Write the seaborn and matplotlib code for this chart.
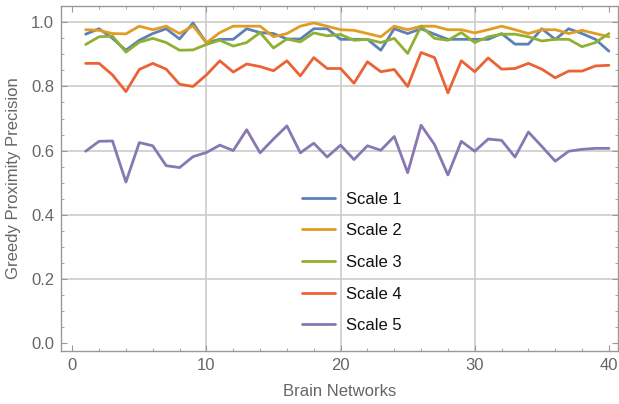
import matplotlib
matplotlib.use("Agg")
import matplotlib.pyplot as plt
from matplotlib.ticker import MultipleLocator
import numpy as np
import pandas as pd
import seaborn as sns

# Values
networks = list(range(1, 41))
scale1 = [0.963, 0.980, 0.950, 0.913, 0.944, 0.965, 0.980, 0.948, 0.998, 0.936,
          0.947, 0.947, 0.980, 0.968, 0.965, 0.948, 0.948, 0.980, 0.980, 0.947,
          0.947, 0.947, 0.913, 0.980, 0.965, 0.980, 0.963, 0.947, 0.947, 0.947,
          0.947, 0.965, 0.932, 0.932, 0.980, 0.947, 0.980, 0.965, 0.947, 0.910]
scale2 = [0.977, 0.975, 0.965, 0.964, 0.988, 0.977, 0.988, 0.965, 0.989, 0.936,
          0.968, 0.988, 0.988, 0.988, 0.955, 0.965, 0.988, 0.998, 0.988, 0.977,
          0.975, 0.965, 0.955, 0.988, 0.977, 0.988, 0.988, 0.977, 0.977, 0.967,
          0.977, 0.988, 0.977, 0.965, 0.977, 0.977, 0.965, 0.975, 0.965, 0.955]
scale3 = [0.931, 0.955, 0.957, 0.907, 0.938, 0.950, 0.937, 0.913, 0.914, 0.931,
          0.944, 0.926, 0.937, 0.968, 0.920, 0.948, 0.939, 0.967, 0.958, 0.962,
          0.944, 0.947, 0.937, 0.950, 0.903, 0.988, 0.950, 0.944, 0.968, 0.937,
          0.955, 0.963, 0.963, 0.955, 0.942, 0.947, 0.947, 0.924, 0.937, 0.965]
scale4 = [0.872, 0.872, 0.836, 0.784, 0.853, 0.872, 0.854, 0.807, 0.800, 0.836,
          0.880, 0.845, 0.870, 0.862, 0.849, 0.880, 0.833, 0.890, 0.856, 0.856,
          0.810, 0.877, 0.846, 0.853, 0.800, 0.906, 0.890, 0.780, 0.880, 0.846,
          0.889, 0.854, 0.856, 0.872, 0.854, 0.827, 0.848, 0.848, 0.864, 0.866]
scale5 = [0.598, 0.629, 0.630, 0.502, 0.625, 0.615, 0.553, 0.547, 0.581, 0.594,
          0.617, 0.600, 0.665, 0.593, 0.636, 0.677, 0.593, 0.623, 0.580, 0.617,
          0.572, 0.615, 0.601, 0.644, 0.531, 0.679, 0.619, 0.524, 0.629, 0.598,
          0.636, 0.632, 0.580, 0.658, 0.613, 0.567, 0.598, 0.604, 0.607, 0.607]

labels = ["Scale 1", "Scale 2", "Scale 3", "Scale 4", "Scale 5"]
colors = ["#5E81B5", "#E19C24", "#8FB032", "#EB6235", "#8778B3"]

frames = []
for lab, vals in zip(labels, [scale1, scale2, scale3, scale4, scale5]):
    frames.append(pd.DataFrame({"network": networks, "precision": vals, "scale": lab}))
df = pd.concat(frames, ignore_index=True)

sns.set_theme(style="white")
plt.rcParams["font.family"] = ["Liberation Sans", "DejaVu Sans"]

fig = plt.figure(figsize=(6.19, 4.04), dpi=100)
ax = fig.add_axes([0.0985, 0.132, 0.8995, 0.854])

# grid lines first so the data sits on top
for gx in [10, 20, 30]:
    ax.axvline(gx, color="#cccccc", lw=1.2, zorder=0)
for gy in [0.2, 0.4, 0.6, 0.8, 1.0]:
    ax.axhline(gy, color="#cccccc", lw=1.2, zorder=0)

sns.lineplot(data=df, x="network", y="precision", hue="scale",
             palette=colors, linewidth=2.0, ax=ax, legend=True)

ax.set_xlim(-0.84, 40.66)
ax.set_ylim(-0.024, 1.052)
ax.xaxis.set_major_locator(MultipleLocator(10))
ax.xaxis.set_minor_locator(MultipleLocator(2))
ax.yaxis.set_major_locator(MultipleLocator(0.2))
ax.yaxis.set_minor_locator(MultipleLocator(0.05))
ax.yaxis.set_major_formatter(matplotlib.ticker.FormatStrFormatter("%.1f"))

ax.tick_params(which="both", direction="in", bottom=True, left=True,
               top=True, right=True, color="#999999",
               labelcolor="#666666", labelsize=12)
ax.tick_params(which="major", length=4.5, width=0.8, pad=5)
ax.tick_params(which="minor", length=2.5, width=0.6)
for s in ax.spines.values():
    s.set_color("#999999")
    s.set_linewidth(1.0)

ax.set_xlabel("Brain Networks", color="#666666", fontsize=12, labelpad=8)
ax.set_ylabel("Greedy Proximity Precision", color="#666666", fontsize=12, labelpad=7)

leg = ax.legend(loc="center", bbox_to_anchor=(0.522, 0.256), frameon=False,
                fontsize=12, handlelength=2.0, handletextpad=0.65,
                labelspacing=1.0, borderpad=0)
for t in leg.get_texts():
    t.set_color("#111111")

fig.savefig("out.png", dpi=100)
